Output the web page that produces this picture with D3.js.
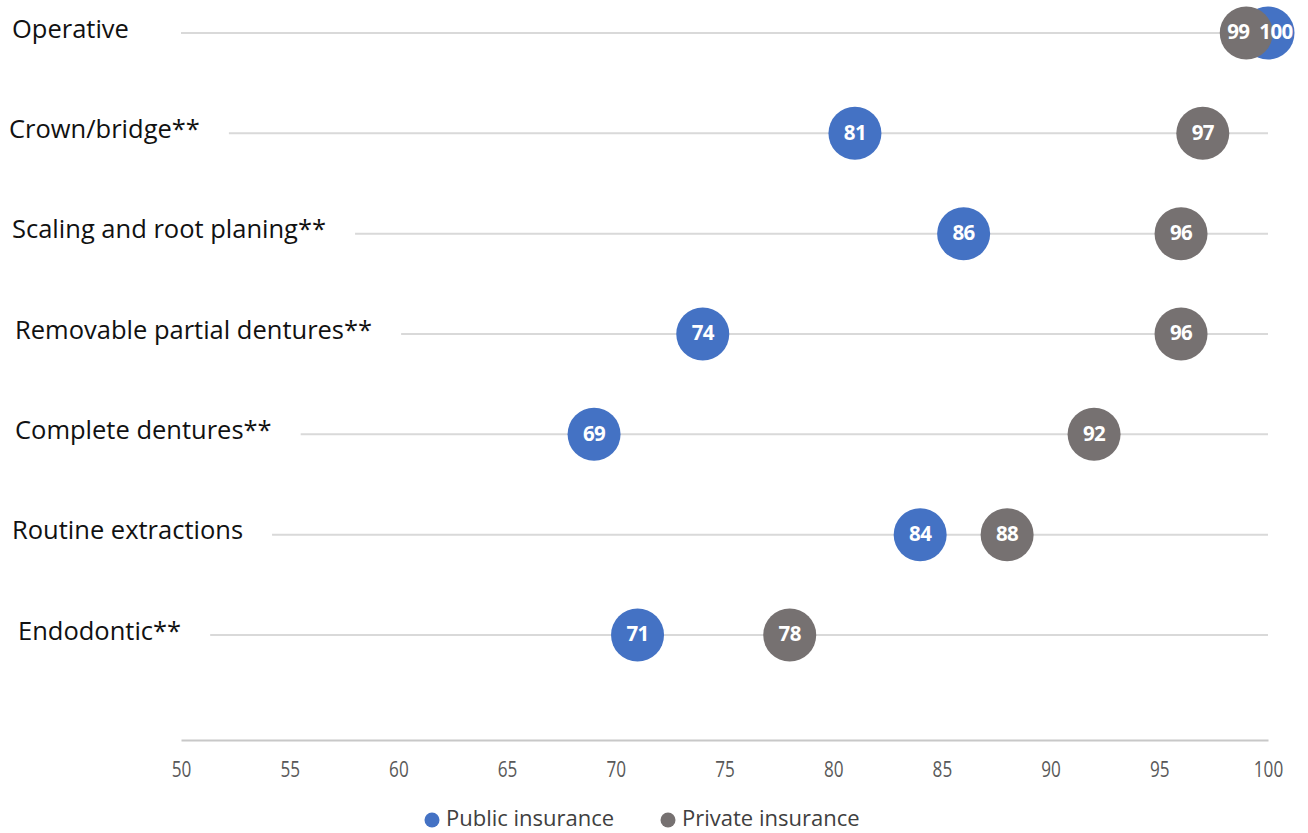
<!DOCTYPE html>
<html>
<head>
<meta charset="utf-8">
<script src="https://cdn.jsdelivr.net/npm/d3@7"></script>
<style>
  html, body { margin: 0; padding: 0; background: #ffffff; }
  svg { display: block; }
</style>
</head>
<body>
<svg id="chart" width="1308" height="833"></svg>
<script>
// Procedures, listed top to bottom
const categories = [
  "Operative",
  "Crown/bridge**",
  "Scaling and root planing**",
  "Removable partial dentures**",
  "Complete dentures**",
  "Routine extractions",
  "Endodontic**"
];
// Percentages for each procedure
const publicValues  = [100, 81, 86, 74, 69, 84, 71];
const privateValues = [99, 97, 96, 96, 92, 88, 78];
const seriesNames = ["Public insurance", "Private insurance"];
const xTicks = [50, 55, 60, 65, 70, 75, 80, 85, 90, 95, 100];

const colors = { "Public insurance": "#4472c4", "Private insurance": "#767171" };
const labelOffsets = [12, 9, 12, 15, 15, 12, 18];

const svg = d3.select("#chart");
const W = 1308, H = 833;

const x = d3.scaleLinear().domain([50, 100]).range([181, 1268]);
const y = d3.scalePoint().domain(categories).range([33, 635]);
const axisY = 740;

// Clip so the rightmost marker is cut at the chart edge
svg.append("defs").append("clipPath").attr("id", "plotClip")
  .append("rect").attr("x", 0).attr("y", 0).attr("width", 1295).attr("height", H);

// Category labels
const labels = svg.append("g").selectAll("text")
  .data(categories)
  .join("text")
  .attr("x", (d, i) => labelOffsets[i])
  .attr("y", d => y(d) - 2)
  .attr("dominant-baseline", "middle")
  .attr("font-family", "'Open Sans', sans-serif")
  .attr("font-size", 25.5)
  .attr("fill", "#111111")
  .text(d => d);

// Row guide lines begin just after each label
const grid = svg.append("g");
labels.each(function(d) {
  const b = this.getBBox();
  const start = Math.max(x(50), b.x + b.width + 29);
  grid.append("line")
    .attr("x1", start).attr("x2", x(100))
    .attr("y1", y(d)).attr("y2", y(d))
    .attr("stroke", "#d9d9d9").attr("stroke-width", 2);
});

// Value axis
const xAxis = d3.axisBottom(x).tickValues(xTicks).tickSize(0).tickPadding(20);
const axisG = svg.append("g").attr("transform", `translate(0,${axisY})`).call(xAxis);
axisG.select(".domain").attr("stroke", "#c8c8c8").attr("stroke-width", 2);
// narrowed tick labels, still centred on their ticks
axisG.selectAll(".tick text")
  .attr("font-family", "'Open Sans', sans-serif")
  .attr("font-size", 19.5)
  .attr("transform", "scale(0.88,1.08)")
  .attr("fill", "#595959");

// Markers: public first, private drawn over it
const points = [];
seriesNames.forEach((s, si) => {
  const vals = si === 0 ? publicValues : privateValues;
  const other = si === 0 ? privateValues : publicValues;
  categories.forEach((c, i) => {
    const gap = vals[i] - other[i];
    // nudge labels apart when the two markers overlap
    const nudge = Math.abs(gap) < 3 ? Math.sign(gap) * 8 : 0;
    points.push({ series: s, cat: c, value: vals[i], nudge });
  });
});

const plot = svg.append("g").attr("clip-path", "url(#plotClip)");
plot.selectAll("circle")
  .data(points)
  .join("circle")
  .attr("cx", d => x(d.value))
  .attr("cy", d => y(d.cat))
  .attr("r", 26.5)
  .attr("fill", d => colors[d.series]);

plot.selectAll("text")
  .data(points)
  .join("text")
  .attr("x", d => x(d.value) + d.nudge)
  .attr("y", d => y(d.cat) + 1)
  .attr("text-anchor", "middle")
  .attr("dominant-baseline", "middle")
  .attr("font-family", "'Open Sans', sans-serif")
  .attr("font-weight", "bold")
  .attr("font-size", 20.5)
  .attr("letter-spacing", -0.6)
  .attr("fill", "#ffffff")
  .text(d => d.value);

// Legend
const legend = svg.append("g").attr("transform", "translate(0,819)");
const legendX = [432, 668];
seriesNames.forEach((s, i) => {
  legend.append("circle").attr("cx", legendX[i]).attr("cy", 1).attr("r", 7.5).attr("fill", colors[s]);
  legend.append("text")
    .attr("x", legendX[i] + 14).attr("y", 1)
    .attr("dominant-baseline", "middle")
    .attr("font-family", "'Open Sans', sans-serif")
    .attr("font-size", 22)
    .attr("fill", "#404040")
    .text(s);
});
</script>
</body>
</html>
